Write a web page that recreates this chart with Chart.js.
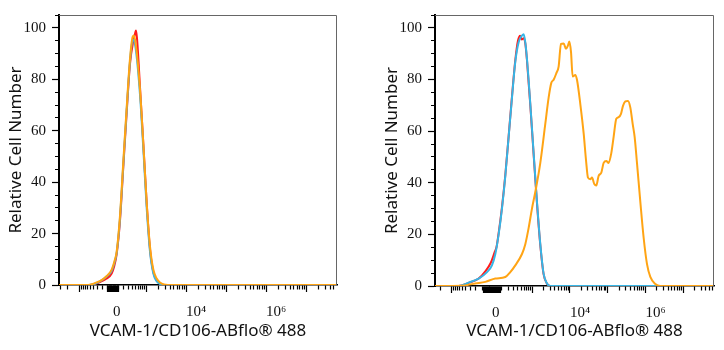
<!DOCTYPE html>
<html>
<head>
<meta charset="utf-8">
<script src="https://cdn.jsdelivr.net/npm/chart.js@4.4.1/dist/chart.umd.min.js"></script>
<style>
html,body{margin:0;padding:0;background:#fff;}
#wrap{display:flex;width:724px;height:350px;}
canvas{display:block;}
</style>
</head>
<body>
<div id="wrap">
<canvas id="c1" width="362" height="350"></canvas>
<canvas id="c2" width="362" height="350"></canvas>
</div>
<script>
// ---- text ----
const xTitle = 'VCAM-1/CD106-ABflo® 488';
const yTitle = 'Relative Cell Number';

// ---- tick labels ----
const xTickValues = [0, 10000, 1000000];
const xTickLabels = ['0', '10⁴', '10⁶'];
const yTickValues = [0, 20, 40, 60, 80, 100];
const yTickLabels = ['0', '20', '40', '60', '80', '100'];

// ---- series colours (dataset 0 drawn on top) ----
const seriesColors = ['#ffa414', '#36b5e6', '#ff1c1c'];

// ---- data: [display position in decades, relative cell number] ----
const leftOrange = [[0.825,0],[1.558,0],[1.767,1],[1.9,2],[2.017,3.5],[2.142,6],[2.225,10],[2.267,13],[2.35,27],[2.433,48],[2.517,69],[2.6,88],[2.667,96.5],[2.7,97],[2.75,93],[2.85,76],[2.933,55],[3.017,32],[3.1,15],[3.183,6],[3.267,2.5],[3.35,1],[3.45,0.2],[3.55,0],[7.775,0]];
const leftCyan = [[0.825,0],[1.58,0],[1.8,1],[2.017,3.3],[2.142,5.5],[2.225,9.5],[2.267,12.5],[2.35,26],[2.433,47],[2.517,68],[2.6,87],[2.667,95.5],[2.7,95],[2.75,91],[2.85,74],[2.933,53],[3.017,30],[3.1,13],[3.183,4.5],[3.267,1.5],[3.35,0.4],[3.42,0],[7.775,0]];
const leftRed = [[0.825,0],[1.6,0],[1.8,0.8],[2.017,2.5],[2.142,4.5],[2.2,7],[2.267,12],[2.35,25],[2.433,46],[2.517,67],[2.6,86],[2.683,95],[2.73,98],[2.75,99],[2.775,96],[2.85,77],[2.933,55],[3.017,32],[3.1,14],[3.183,5],[3.267,1.8],[3.35,0.5],[3.45,0],[7.775,0]];

const rightOrange = [[0.42,0],[1.135,0.1],[1.489,1],[1.754,1.6],[2.02,2.9],[2.285,3.5],[2.417,5.4],[2.55,8],[2.727,12.4],[2.815,16.2],[2.904,22.5],[2.992,30],[3.08,36.4],[3.213,47.7],[3.346,62.9],[3.434,73],[3.505,78.7],[3.567,79.9],[3.637,82.4],[3.699,85],[3.761,93.8],[3.832,94],[3.894,91.9],[3.947,93.2],[3.982,94.7],[4.027,90.7],[4.071,81.2],[4.141,81.8],[4.186,79.9],[4.274,70.5],[4.363,59.1],[4.424,49],[4.477,42],[4.539,41.4],[4.584,42],[4.645,39.5],[4.698,38.9],[4.76,42.7],[4.831,43.9],[4.893,47.7],[4.964,48.4],[5.026,47.7],[5.096,51.5],[5.158,57.8],[5.229,64.8],[5.291,65.4],[5.353,66.7],[5.406,69.8],[5.468,71.5],[5.538,71.7],[5.6,69.2],[5.662,62.9],[5.715,57.8],[5.777,47.7],[5.866,32.6],[5.954,18.7],[6.042,8.6],[6.131,3.5],[6.263,0.8],[6.396,0],[7.82,0]];
const rightCyan = [[0.42,0],[1.047,0],[1.312,1.3],[1.577,2.9],[1.8,5.4],[1.93,8],[2.02,12.4],[2.108,20],[2.196,30],[2.285,42.7],[2.373,57.8],[2.462,73],[2.55,86.9],[2.638,94.4],[2.709,96.7],[2.771,97.5],[2.815,94.4],[2.859,88],[2.948,70.5],[3.036,51.5],[3.125,32.6],[3.213,16.2],[3.3,4.8],[3.39,1],[3.48,0],[7.82,0]];
const rightRed = [[0.42,0],[1.05,0],[1.31,1.2],[1.57,2.8],[1.76,5.8],[1.9,9],[2.0,13],[2.05,15],[2.108,20.5],[2.196,30.5],[2.285,43],[2.373,58],[2.462,73.5],[2.55,87.5],[2.62,95],[2.68,97],[2.72,95.5],[2.77,96],[2.815,94],[2.859,87.5],[2.948,70],[3.036,51],[3.125,32],[3.213,15.8],[3.3,4.6],[3.39,0.9],[3.48,0],[7.82,0]];

// ---- biexponential-like axis: tick value -> display position ----
function toDisplay(v, w0) { return Math.log10(w0) + Math.asinh(v / (2 * w0)) / Math.LN10; }
function makeXTicks(w0, min, max) {
  const out = [{value: toDisplay(0, w0), raw: 0, major: true}];
  for (let k = 1; k <= 7; k++) for (let m = 1; m <= 9; m++) for (const s of [1, -1]) {
    const raw = s * m * Math.pow(10, k);
    const d = toDisplay(raw, w0);
    if (d >= min && d <= max) out.push({value: d, raw, major: (m === 1 && k >= 3) || k === 1});
  }
  out.sort((a, b) => a.value - b.value);
  return out;
}

const framePlugin = {
  id: 'frame',
  afterDraw(chart) {
    const {ctx, chartArea: a} = chart;
    ctx.save();
    ctx.strokeStyle = '#666';
    ctx.lineWidth = 1;
    ctx.beginPath();
    ctx.moveTo(a.left, a.top + 0.5);
    ctx.lineTo(a.right - 0.5, a.top + 0.5);
    ctx.lineTo(a.right - 0.5, a.bottom);
    ctx.stroke();
    ctx.restore();
  }
};

const tickFont = {family: '"Liberation Serif", "DejaVu Serif", serif', size: 15};
const titleFont = {family: '"Noto Sans", "Open Sans", sans-serif', size: 17};

function makeChart(id, series, cfg) {
  const xt = makeXTicks(cfg.w0, cfg.xmin, cfg.xmax);
  return new Chart(document.getElementById(id), {
    type: 'line',
    data: {
      datasets: series.map((s, i) => ({
        data: s.map(p => ({x: p[0], y: p[1]})),
        borderColor: seriesColors[i],
        borderWidth: 2,
        pointRadius: 0,
        fill: false,
        cubicInterpolationMode: 'monotone'
      }))
    },
    options: {
      responsive: false,
      animation: false,
      devicePixelRatio: 1,
      layout: {padding: cfg.padding},
      plugins: {legend: {display: false}, tooltip: {enabled: false}},
      scales: {
        x: {
          type: 'linear',
          min: cfg.xmin, max: cfg.xmax,
          afterBuildTicks: s => { s.ticks = xt.map(t => ({value: t.value})); },
          afterFit: s => { s.height = cfg.xHeight; },
          ticks: {
            autoSkip: false, maxRotation: 0, align: 'start', padding: 11,
            font: tickFont, color: '#111',
            callback: (v, i) => { const j = xTickValues.indexOf(xt[i] ? xt[i].raw : NaN); return j >= 0 ? xTickLabels[j] : ''; }
          },
          grid: {
            drawOnChartArea: false, tickLength: 7, tickWidth: 1.2, tickColor: '#000',
            tickBorderDash: c => (xt[c.index] && xt[c.index].major) ? [] : [4, 20]
          },
          border: {color: '#000', width: 1.5},
          title: {display: true, text: xTitle, font: titleFont, color: '#111', padding: {top: 0, bottom: 9}}
        },
        y: {
          min: 0, max: 105,
          afterFit: s => { s.width = 53; },
          ticks: {
            stepSize: 5, autoSkip: false, padding: 6, font: tickFont, color: '#111',
            callback: v => { const j = yTickValues.indexOf(v); return j >= 0 ? yTickLabels[j] : ''; }
          },
          grid: {
            drawOnChartArea: false, tickLength: 7, tickWidth: 1.2, tickColor: '#000',
            tickBorderDash: c => (c.tick && c.tick.value % 20 === 0) ? [] : [0, 3, 4, 20]
          },
          border: {color: '#000', width: 2},
          title: {display: true, text: yTitle, font: titleFont, color: '#111', padding: {top: 0, bottom: 0}}
        }
      }
    },
    plugins: [framePlugin]
  });
}

makeChart('c1', [leftOrange, leftCyan, leftRed], {w0: 150, xmin: 0.825, xmax: 7.775, xHeight: 65, padding: {left: 6, top: 8, right: 25, bottom: 0}});
makeChart('c2', [rightOrange, rightCyan, rightRed], {w0: 85, xmin: 0.42, xmax: 7.82, xHeight: 64, padding: {left: 20, top: 9, right: 10, bottom: 0}});
</script>
</body>
</html>
